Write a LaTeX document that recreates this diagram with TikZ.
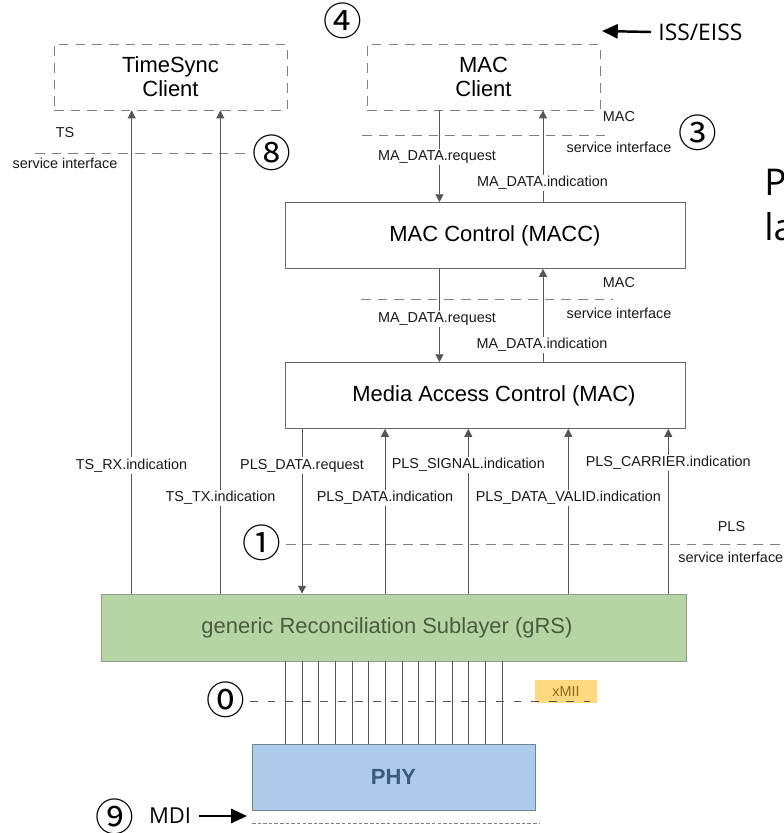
\documentclass[tikz,border=0pt]{standalone}
\usepackage{fontspec}
\setmainfont{Liberation Sans}
\newfontfamily\osfont{Open Sans}
\newfontfamily\numfont{Noto Sans CJK JP}
\usetikzlibrary{arrows.meta}
\definecolor{linegray}{HTML}{555555}
\definecolor{dashgray}{HTML}{808080}
\definecolor{grsgreen}{HTML}{B7D5A4}
\definecolor{grsline}{HTML}{8E9E86}
\definecolor{grstext}{HTML}{4A5C3C}
\definecolor{phyblue}{HTML}{AECCE9}
\definecolor{phyline}{HTML}{6F8499}
\definecolor{phytext}{HTML}{3C5A7A}
\definecolor{miiyellow}{HTML}{FFD97F}
\definecolor{miitext}{HTML}{8C6A18}
\tikzset{
	client/.style={draw=dashgray, dash pattern=on 5.5pt off 4pt, minimum width=4.66cm, minimum height=1.32cm, align=center, font=\fontsize{12.5}{13.5}\selectfont},
	layer/.style={draw=linegray!90, minimum width=8cm, minimum height=1.32cm, font=\fontsize{12.5}{14}\selectfont},
	prim/.style={fill=white, inner sep=1pt, text=black!90, font=\fontsize{8.2}{9}\selectfont},
	sinote/.style={inner sep=0pt, text=black!90, font=\fontsize{8.2}{9}\selectfont},
	circnum/.style={inner sep=0pt, font=\numfont\fontsize{22}{22}\selectfont},
	sap/.style={dashgray, line width=0.5pt, dash pattern=on 5.5pt off 4pt},
	flow/.style={linegray, line width=0.5pt, -{Triangle[length=4.5pt,width=4.5pt]}},
	bigarrow/.style={line width=1.4pt, -{Triangle[length=9pt,width=8pt]}}
}
\begin{document}
\begin{tikzpicture}[x=0.02cm, y=-0.02cm]
	\useasboundingbox (0,0) rectangle (784,833);
	\clip (0,0) rectangle (784,833);
	%service interfaces
	\draw[sap] (35,153) -- (245,153);
	\draw[sap] (362,135) -- (612,135);
	\draw[sap] (361,299) -- (613,299);
	\draw[sap] (286,544.5) -- (784,544.5);
	%boxes
	\node[client] (tsc) at (170.5,77) {TimeSync\\Client};
	\node[client] (mcl) at (483.5,77) {MAC\\Client};
	\node[layer] (macc) at (485,235.5) {\hspace*{0.4cm}MAC Control (MACC)};
	\node[layer] (mac) at (485,395.5) {\hspace*{0.36cm}Media Access Control (MAC)};
	\node[layer, draw=grsline, fill=grsgreen, text=grstext, minimum width=11.7cm, minimum height=1.34cm] (grs) at (393.5,627.5) {generic Reconciliation Sublayer (gRS)\hspace*{0.26cm}};
	\node[layer, draw=phyline, fill=phyblue, text=phytext, minimum width=5.66cm, font=\bfseries\fontsize{12.5}{14}\selectfont] (phy) at (393.5,777) {PHY};
	%MA_DATA
	\draw[flow] (mcl.south -| 439.5,0) -- (macc.north -| 439.5,0);
	\draw[flow] (macc.north -| 543,0) -- (mcl.south -| 543,0);
	\draw[flow] (macc.south -| 439.5,0) -- (mac.north -| 439.5,0);
	\draw[flow] (mac.north -| 543,0) -- (macc.south -| 543,0);
	%PLS and TS
	\foreach \x in {131.7,220.3}
	\draw[flow] (grs.north -| \x,0) -- (tsc.south -| \x,0);
	\draw[flow] (mac.south -| 302,0) -- (grs.north -| 302,0);
	\foreach \x in {385,468.3,568.3,668.3}
	\draw[flow] (grs.north -| \x,0) -- (mac.south -| \x,0);
	%xMII
	\node[fill=miiyellow, minimum width=1.24cm, minimum height=0.46cm, inner sep=0pt] (xmii) at (566,691.5) {};
	\foreach \i [evaluate=\i as \x using 285.3+16.67*\i] in {0,...,13}
	\draw[linegray, line width=0.5pt] (grs.south -| \x,0) -- (phy.north -| \x,0);
	\draw[linegray, line width=0.5pt, dash pattern=on 4.5pt off 5.5pt] (250,701) -- (590,701);
	\node[inner sep=0pt, text=miitext, font=\fontsize{8.2}{9}\selectfont] (miitxt) at (xmii) {xMII};
	\draw[dashgray, line width=0.5pt, dash pattern=on 2pt off 1.2pt] (252,823) -- (540,823);
	%labels
	\node[sinote] (tsname) at (65,133) {TS};
	\node[sinote] (tsif) at (65,163) {service interface};
	\node[sinote] (macname) at (619,117) {MAC};
	\node[sinote] (macif) at (619,147) {service interface};
	\node[sinote] (maccname) at (619,283) {MAC};
	\node[sinote] (maccif) at (619,313) {service interface};
	\node[sinote] (plsname) at (731.5,526.5) {PLS};
	\node[sinote, anchor=west] (plsif) at (678,557) {service interface};
	\node[prim] (mareq1) at (437,157) {MA\_DATA.request};
	\node[prim] (maind1) at (542.5,183) {MA\_DATA.indication};
	\node[prim] (mareq2) at (437,319) {MA\_DATA.request};
	\node[prim] (maind2) at (542,345) {MA\_DATA.indication};
	\node[prim] (tsrx) at (131.5,465.5) {TS\_RX.indication};
	\node[prim] (tstx) at (220.5,498) {TS\_TX.indication};
	\node[prim] (plsreq) at (302,465.5) {PLS\_DATA.request};
	\node[prim] (plsind) at (385,498) {PLS\_DATA.indication};
	\node[prim] (plssig) at (468.3,465) {PLS\_SIGNAL.indication};
	\node[prim] (plsval) at (568.3,498) {PLS\_DATA\_VALID.indication};
	\node[prim] (plscar) at (668.3,463) {PLS\_CARRIER.indication};
	%numbers
	\node[circnum] (n4) at (343,21) {④};
	\node[circnum] (n3) at (698,133) {③};
	\node[circnum] (n8) at (272,153) {⑧};
	\node[circnum] (n1) at (262,543) {①};
	\node[circnum] (n0) at (226,700) {⓪};
	\node[circnum] (n9) at (115,817) {⑨};
	%ISS/EISS and MDI
	\node[anchor=west, inner sep=4pt, font=\osfont\fontsize{13}{15}\selectfont] (iss) at (651,32) {ISS/EISS};
	\coordinate (issend) at (602,31);
	\draw[bigarrow] (iss.west) -- (issend);
	\node[inner sep=4.5pt, font=\osfont\fontsize{12.5}{15}\selectfont] (mdi) at (170,816) {MDI};
	\coordinate (mdiend) at (247,816);
	\draw[bigarrow] (mdi.east) -- (mdiend);
	%cut off text
	\node[anchor=base west, inner sep=0pt, font=\osfont\fontsize{21}{25}\selectfont] (cutp) at (764,195) {P};
	\node[anchor=base west, inner sep=0pt, font=\osfont\fontsize{21}{25}\selectfont] (cutla) at (764,240) {la};
\end{tikzpicture}
\end{document}
